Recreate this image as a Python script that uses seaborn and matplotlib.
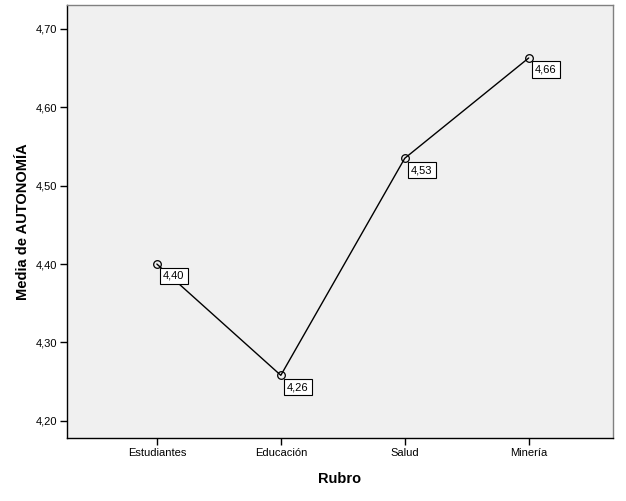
import matplotlib
matplotlib.use("Agg")
import matplotlib.pyplot as plt
import seaborn as sns
import pandas as pd

categories = ["Estudiantes", "Educación", "Salud", "Minería"]
means = [4.400, 4.258, 4.535, 4.663]
labels = ["4,40", "4,26", "4,53", "4,66"]
yticks = [4.20, 4.30, 4.40, 4.50, 4.60, 4.70]
ytick_labels = ["4,20", "4,30", "4,40", "4,50", "4,60", "4,70"]

sns.set_style("white")
plt.rcParams['font.family'] = ['Liberation Sans', 'DejaVu Sans']
plt.rcParams['text.color'] = 'black'
plt.rcParams['axes.labelcolor'] = 'black'
plt.rcParams['xtick.color'] = 'black'
plt.rcParams['ytick.color'] = 'black'

df = pd.DataFrame({"Rubro": categories, "Media": means})
df["x"] = range(len(categories))

fig = plt.figure(figsize=(6.26, 5.01), dpi=100)
ax = fig.add_axes([67/626, 1 - 438/501, (613-67)/626, (438-5)/501])
ax.set_facecolor("#F0F0F0")

sns.lineplot(data=df, x="x", y="Media", ax=ax, color="black", linewidth=1.0,
             marker="o", markersize=5.5, markerfacecolor="none",
             markeredgecolor="black", markeredgewidth=0.9)

for xi, yi, lab in zip(df["x"], df["Media"], labels):
    ax.annotate(lab, (xi, yi), xytext=(4.5, -8.5), textcoords="offset points",
                fontsize=8, ha="left", va="center", color="black",
                bbox=dict(boxstyle="square,pad=0.3", facecolor="white",
                          edgecolor="black", linewidth=0.8))

ax.set_xlim(-0.725, 3.68)
ax.set_ylim(4.178, 4.7306)
ax.set_xticks(df["x"])
ax.set_xticklabels(categories, fontsize=8)
ax.set_yticks(yticks)
ax.set_yticklabels(ytick_labels, fontsize=8)
ax.tick_params(axis="both", direction="out", length=5, width=1, color="black",
               labelcolor="black", bottom=True, left=True, pad=2)

for side in ["left", "bottom"]:
    ax.spines[side].set_color("black")
    ax.spines[side].set_linewidth(1.0)
for side in ["top", "right"]:
    ax.spines[side].set_visible(True)
    ax.spines[side].set_color("#808080")
    ax.spines[side].set_linewidth(1.0)

ax.set_xlabel("Rubro", fontsize=10.5, fontweight="bold", labelpad=10, color="black")
ax.set_ylabel("Media de AUTONOMÍA", fontsize=10.5, fontweight="bold", labelpad=4, color="black")

fig.savefig("out.png", dpi=100)
